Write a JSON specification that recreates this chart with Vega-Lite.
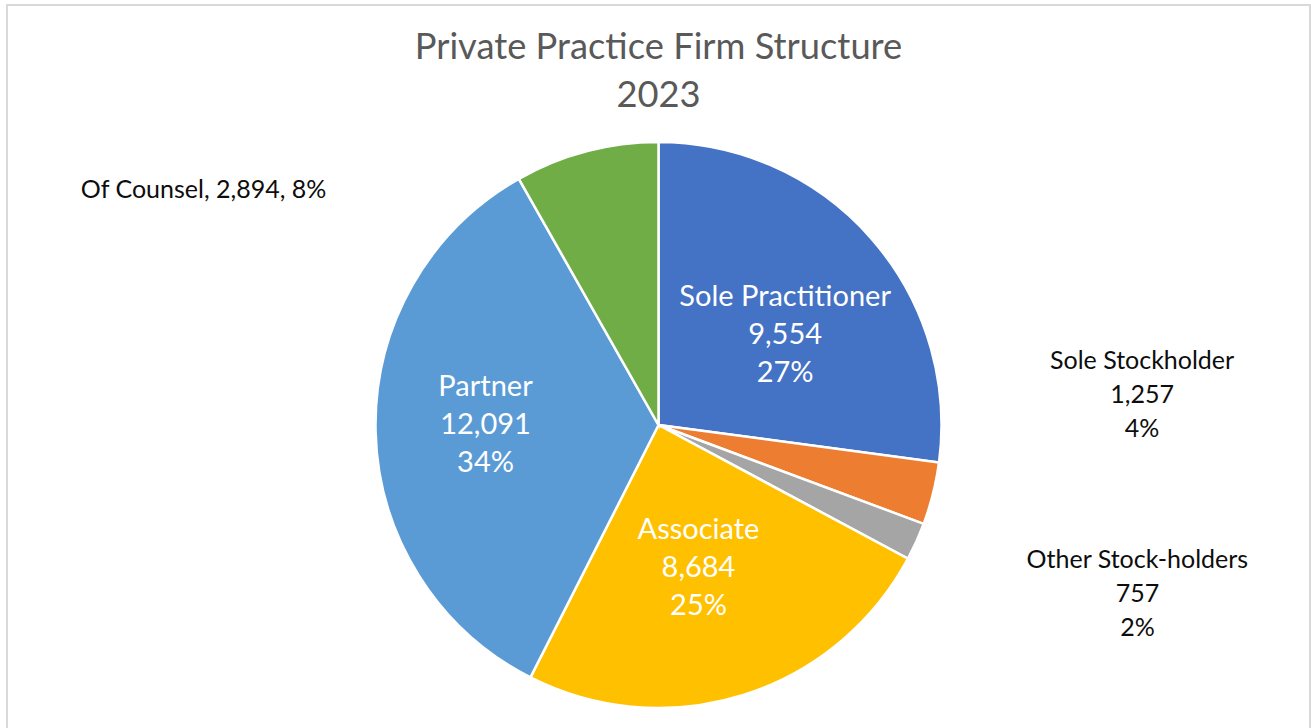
{
  "$schema": "https://vega.github.io/schema/vega-lite/v6.json",
  "autosize": {"type": "none"},
  "width": 1303,
  "height": 840,
  "padding": {"left": 7, "top": 5, "right": 1, "bottom": -117},
  "background": "white",
  "view": {"stroke": "#D9D9D9", "strokeWidth": 2},
  "config": {"view": {"stroke": "#D9D9D9", "strokeWidth": 2}},
  "title": {
    "text": ["Private Practice Firm Structure", "2023"],
    "font": "Lato",
    "fontSize": 36.3,
    "fontWeight": "normal",
    "color": "#595959",
    "anchor": "middle",
    "baseline": "top",
    "lineHeight": 48,
    "offset": 0,
    "dy": 109
  },
  "data": {
    "values": [
      {"name": "Sole Practitioner", "value": 9554, "order": 1, "label": "Sole Practitioner\n9,554\n27%"},
      {"name": "Sole Stockholder", "value": 1257, "order": 2, "label": "Sole Stockholder\n1,257\n4%"},
      {"name": "Other Stock-holders", "value": 757, "order": 3, "label": "Other Stock-holders\n757\n2%"},
      {"name": "Associate", "value": 8684, "order": 4, "label": "Associate\n8,684\n25%"},
      {"name": "Partner", "value": 12091, "order": 5, "label": "Partner\n12,091\n34%"},
      {"name": "Of Counsel", "value": 2894, "order": 6, "label": "Of Counsel, 2,894, 8%"}
    ]
  },
  "encoding": {
    "theta": {"field": "value", "type": "quantitative", "stack": true},
    "order": {"field": "order", "type": "quantitative"},
    "detail": {"field": "name", "type": "nominal"}
  },
  "layer": [
    {
      "mark": {"type": "arc", "outerRadius": 283, "stroke": "white", "strokeWidth": 2.5},
      "encoding": {
        "color": {
          "field": "name",
          "type": "nominal",
          "legend": null,
          "scale": {
            "domain": ["Sole Practitioner", "Sole Stockholder", "Other Stock-holders", "Associate", "Partner", "Of Counsel"],
            "range": ["#4472C4", "#ED7D31", "#A5A5A5", "#FFC000", "#5B9BD5", "#70AD47"]
          }
        }
      }
    },
    {
      "mark": {"type": "text", "radius": 155, "dx": 10, "dy": -26, "font": "Lato", "fontSize": 29, "fill": "white", "lineBreak": "\n", "lineHeight": 38, "baseline": "middle", "align": "center"},
      "encoding": {"text": {"condition": {"test": "datum.name === 'Sole Practitioner'", "field": "label"}, "value": ""}}
    },
    {
      "mark": {"type": "text", "radius": 173, "dx": 0, "dy": -42, "font": "Lato", "fontSize": 29, "fill": "white", "lineBreak": "\n", "lineHeight": 38, "baseline": "middle", "align": "center"},
      "encoding": {"text": {"condition": {"test": "datum.name === 'Partner'", "field": "label"}, "value": ""}}
    },
    {
      "mark": {"type": "text", "radius": 150, "dx": -5, "dy": -38, "font": "Lato", "fontSize": 29, "fill": "white", "lineBreak": "\n", "lineHeight": 38, "baseline": "middle", "align": "center"},
      "encoding": {"text": {"condition": {"test": "datum.name === 'Associate'", "field": "label"}, "value": ""}}
    },
    {
      "mark": {"type": "text", "radius": 283, "dx": 209, "dy": -133, "font": "Lato", "fontSize": 25, "fill": "#0D0D0D", "lineBreak": "\n", "lineHeight": 34, "baseline": "middle", "align": "center"},
      "encoding": {"text": {"condition": {"test": "datum.name === 'Sole Stockholder'", "field": "label"}, "value": ""}}
    },
    {
      "mark": {"type": "text", "radius": 283, "dx": 221, "dy": 18, "font": "Lato", "fontSize": 25, "fill": "#0D0D0D", "lineBreak": "\n", "lineHeight": 34, "baseline": "middle", "align": "center"},
      "encoding": {"text": {"condition": {"test": "datum.name === 'Other Stock-holders'", "field": "label"}, "value": ""}}
    },
    {
      "mark": {"type": "text", "radius": 283, "dx": -260, "dy": 39, "font": "Lato", "fontSize": 25, "fill": "#0D0D0D", "lineBreak": "\n", "baseline": "middle", "align": "right"},
      "encoding": {"text": {"condition": {"test": "datum.name === 'Of Counsel'", "field": "label"}, "value": ""}}
    }
  ]
}
